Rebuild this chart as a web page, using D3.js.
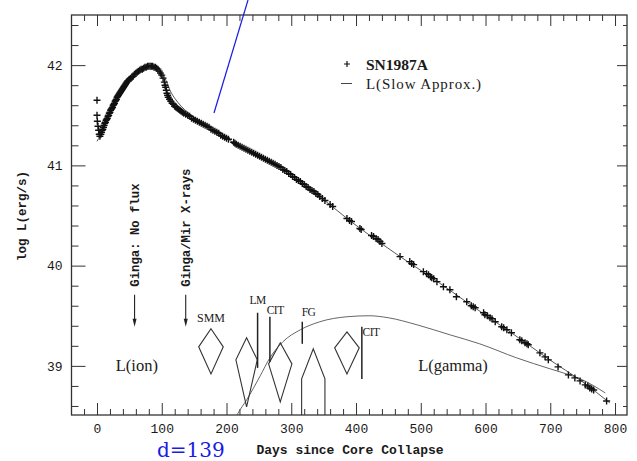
<!DOCTYPE html>
<html>
<head>
<meta charset="utf-8">
<script src="https://d3js.org/d3.v7.min.js"></script>
<style>
  body { margin: 0; background: #fff; }
  .tick text { font-family: "Liberation Mono", monospace; font-size: 13px; fill: #1a1a1a; }
  .tick line { stroke: #333; stroke-width: 1; }
  .mono { font-family: "Liberation Mono", monospace; fill: #1a1a1a; }
  .serif { font-family: "Liberation Serif", serif; fill: #1a1a1a; }
</style>
</head>
<body>
<script>
// SN1987A bolometric light curve vs. slow approximation and L(gamma)

var width = 637, height = 461;
var plot = { left: 71.5, right: 627, top: 15, bottom: 415 };

// axes
var dayDomain = [-39.4, 818.5];
var logLDomain = [38.51, 42.5];
var dayTicks = [0, 100, 200, 300, 400, 500, 600, 700, 800];
var logLTicks = [39, 40, 41, 42];

// observed points (day, log L)
var snDay = [0, 0, 0.5, 1.5, 2.5, 3.5, 4.5, 6, 7, 8, 9, 10, 11, 12, 13, 14, 15, 16, 17, 18, 19, 20,
  21, 22, 23, 24, 25, 26, 27, 28, 29, 30, 31, 32, 33, 34, 35, 36, 37, 38, 39, 40, 41, 42, 43, 44, 45,
  46, 47, 48, 49, 50, 52, 54, 56, 58, 60, 62, 64, 66, 68, 70, 72, 74, 76, 78, 80, 82, 84, 86, 88, 90,
  92, 94, 96, 98, 100, 102, 104, 105, 106, 107, 108, 109, 110, 112, 114, 116, 118, 120, 122, 124, 126,
  128, 130, 132, 134, 137, 140, 143, 146, 149, 152, 155, 158, 161, 164, 167, 170, 173, 176, 179, 182,
  185, 188, 191, 194, 197, 200, 203, 211, 213, 215, 218, 221, 224, 227, 230, 233, 236, 239, 242, 245, 248,
  251, 254, 257, 260, 263, 266, 269, 272, 275, 278, 281, 284, 287, 290, 293, 296, 299, 302, 305, 308,
  311, 314, 317, 320, 323, 326, 329, 332, 335, 338, 341, 344, 348, 352,
  360, 364, 386, 390, 393, 406, 408, 424, 427, 431, 434, 437, 440, 468, 483, 486, 489, 504, 509, 512,
  515, 517, 520, 525, 535, 545, 555, 571, 578, 581, 584, 597, 599, 603, 607, 610, 615, 625, 628, 633,
  640, 653, 656, 661, 664, 666, 684, 692, 697, 712, 728, 738, 746, 754, 758, 761, 764, 767, 787];
var snLogL = [41.65, 41.50, 41.44, 41.39, 41.35, 41.31, 41.29, 41.31, 41.33, 41.35, 41.36, 41.38,
  41.40, 41.42, 41.43, 41.45, 41.46, 41.47, 41.49, 41.50, 41.52, 41.53, 41.55, 41.56, 41.57, 41.58,
  41.60, 41.61, 41.62, 41.64, 41.65, 41.66, 41.68, 41.69, 41.70, 41.71, 41.72, 41.73, 41.74, 41.75,
  41.76, 41.77, 41.78, 41.79, 41.80, 41.81, 41.82, 41.83, 41.84, 41.84, 41.85, 41.86, 41.87, 41.88,
  41.89, 41.91, 41.92, 41.93, 41.94, 41.95, 41.96, 41.96, 41.97, 41.98, 41.98, 41.99, 41.99, 41.99,
  41.99, 41.99, 41.98, 41.98, 41.97, 41.96, 41.94, 41.92, 41.90, 41.87, 41.83, 41.80, 41.78, 41.75,
  41.72, 41.70, 41.68, 41.66, 41.64, 41.62, 41.61, 41.59, 41.58, 41.57, 41.56, 41.55, 41.54, 41.53,
  41.52, 41.51, 41.50, 41.49, 41.47, 41.46, 41.45, 41.44, 41.43, 41.42, 41.41, 41.40, 41.39, 41.38,
  41.36, 41.35, 41.34, 41.33, 41.32, 41.30, 41.29, 41.28, 41.27, 41.26, 41.23, 41.22, 41.21, 41.20, 41.19,
  41.18, 41.17, 41.16, 41.15, 41.14, 41.13, 41.12, 41.11, 41.10, 41.09, 41.08, 41.07, 41.06, 41.05,
  41.04, 41.03, 41.02, 41.01, 41.00, 40.99, 40.98, 40.96, 40.95, 40.94, 40.92, 40.91, 40.89, 40.88,
  40.86, 40.85, 40.84, 40.82, 40.81, 40.79, 40.78, 40.76, 40.75, 40.74, 40.72, 40.71, 40.69, 40.67,
  40.65,
  40.61, 40.59, 40.47, 40.45, 40.44, 40.37, 40.36, 40.30, 40.29, 40.27, 40.26, 40.24, 40.22, 40.09,
  40.04, 40.02, 40.01, 39.94, 39.92, 39.91, 39.89, 39.88, 39.87, 39.84, 39.79, 39.76, 39.69, 39.64,
  39.60, 39.59, 39.58, 39.53, 39.51, 39.50, 39.48, 39.47, 39.44, 39.39, 39.38, 39.36, 39.33, 39.26,
  39.25, 39.23, 39.22, 39.21, 39.13, 39.09, 39.06, 38.99, 38.91, 38.88, 38.85, 38.81, 38.80, 38.78,
  38.77, 38.76, 38.65];

// L(Slow Approx.)
var slowDay = [0, 5, 10, 20, 30, 40, 50, 60, 70, 80, 90, 100, 105, 110, 115, 120, 130, 140, 150, 175,
  200, 231, 283, 313, 344, 390, 437, 468, 517, 581, 640, 697, 750, 792];
var slowLogL = [41.24, 41.30, 41.37, 41.51, 41.65, 41.77, 41.86, 41.93, 41.97, 41.99, 41.98, 41.93,
  41.87, 41.79, 41.72, 41.67, 41.59, 41.53, 41.48, 41.37, 41.27, 41.15, 40.99, 40.84, 40.69, 40.45,
  40.23, 40.09, 39.88, 39.59, 39.33, 39.07, 38.84, 38.63];

// L(gamma)
var gammaDay = [214, 218, 231, 252, 267, 287, 314, 344, 386, 420, 450, 494, 545, 591, 648, 700, 720, 750, 785];
var gammaLogL = [38.48, 38.53, 38.66, 38.90, 39.08, 39.24, 39.36, 39.44, 39.49, 39.50, 39.48, 39.41,
  39.31, 39.22, 39.08, 38.97, 38.93, 38.86, 38.73];

// gamma-ray detections: diamonds (day, half-width in days, top / middle / bottom log L)
var diamondDay = [176, 231, 283, 334, 386];
var diamondHalfDays = [19, 16.5, 18, 18, 19];
var diamondTop = [39.37, 39.28, 39.23, 39.17, 39.34];
var diamondMid = [39.19, 39.06, 39.02, 38.87, 39.18];
var diamondBot = [38.92, 38.59, 38.64, null, 38.92];   // null: open towards the axis
var diamondLabel = ["SMM", "", "", "", ""];
var diamondLabelLogL = [39.44, 0, 0, 0, 0];

// line detections (bars)
var barName = ["LM", "CIT", "FG", "CIT"];
var barDay = [248, 267, 317, 409];
var barTop = [39.53, 39.49, 39.44, 39.39];
var barBot = [38.98, 39.04, 39.22, 38.87];
var barLabelDay = [248, 262, 316, 410];
var barLabelLogL = [39.615, 39.52, 39.50, 39.30];
var barAnchor = ["middle", "start", "start", "start"];

// X-ray upper limits (arrows)
var arrowText = ["Ginga: No flux", "Ginga/Mir X-rays"];
var arrowDay = [58, 137];
var arrowTop = [39.71, 39.71];
var arrowTip = [39.39, 39.39];
var arrowLabelLogL = [39.79, 39.79];

var x = d3.scaleLinear().domain(dayDomain).range([plot.left, plot.right]);
var y = d3.scaleLinear().domain(logLDomain).range([plot.bottom, plot.top]);

var svg = d3.select("body").append("svg")
  .attr("width", width)
  .attr("height", height);

svg.append("clipPath").attr("id", "clip")
  .append("rect")
  .attr("x", plot.left).attr("y", plot.top)
  .attr("width", plot.right - plot.left).attr("height", plot.bottom - plot.top);

// ticks, all pointing inwards
var dayMinor = d3.range(-20, 820, 20).filter(function(d) { return d % 100 !== 0; });
var logLMinor = d3.range(38.6, 42.45, 0.2).filter(function(d) { return Math.abs(d - Math.round(d)) > 0.01; });

function axisGroup(axis, tx, ty) {
  var g = svg.append("g")
    .attr("transform", "translate(" + [tx, ty] + ")")
    .call(axis);
  g.select(".domain").remove();
  return g;
}
axisGroup(d3.axisBottom(x).tickValues(dayTicks).tickSize(-12).tickPadding(9).tickFormat(d3.format("d")), 0, plot.bottom);
axisGroup(d3.axisBottom(x).tickValues(dayMinor).tickSize(-6).tickFormat(""), 0, plot.bottom);
axisGroup(d3.axisTop(x).tickValues(dayTicks).tickSize(-11).tickFormat(""), 0, plot.top);
axisGroup(d3.axisTop(x).tickValues(dayMinor).tickSize(-6).tickFormat(""), 0, plot.top);
axisGroup(d3.axisLeft(y).tickValues(logLTicks).tickSize(-14).tickPadding(9).tickFormat(d3.format("d")), plot.left, 0);
axisGroup(d3.axisLeft(y).tickValues(logLMinor).tickSize(-7).tickFormat(""), plot.left, 0);
axisGroup(d3.axisRight(y).tickValues(logLTicks).tickSize(-10).tickFormat(""), plot.right, 0);
axisGroup(d3.axisRight(y).tickValues(logLMinor).tickSize(-4).tickFormat(""), plot.right, 0);

// frame
svg.append("rect")
  .attr("x", plot.left).attr("y", plot.top)
  .attr("width", plot.right - plot.left).attr("height", plot.bottom - plot.top)
  .attr("fill", "none")
  .attr("stroke", "#333")
  .attr("stroke-width", 1.3);

// axis titles
svg.append("text")
  .attr("class", "mono")
  .attr("x", 350).attr("y", 454)
  .attr("text-anchor", "middle")
  .attr("font-size", "13px")
  .attr("font-weight", "bold")
  .text("Days since Core Collapse");
svg.append("text")
  .attr("class", "mono")
  .attr("transform", "translate(" + [26, 216] + ") rotate(-90)")
  .attr("text-anchor", "middle")
  .attr("font-size", "12.5px")
  .attr("font-weight", "bold")
  .text("log L(erg/s)");

var marks = svg.append("g").attr("clip-path", "url(#clip)");

// curves
var line = d3.line()
  .x(function(d) { return x(d[0]); })
  .y(function(d) { return y(d[1]); })
  .curve(d3.curveMonotoneX);

marks.append("path")
  .datum(d3.zip(slowDay, slowLogL))
  .attr("d", line)
  .attr("fill", "none")
  .attr("stroke", "#444")
  .attr("stroke-width", 0.9);

marks.append("path")
  .datum(d3.zip(gammaDay, gammaLogL))
  .attr("d", line)
  .attr("fill", "none")
  .attr("stroke", "#555")
  .attr("stroke-width", 0.9);

// SN1987A crosses
marks.selectAll(".sn")
  .data(d3.zip(snDay, snLogL))
  .enter()
  .append("path")
  .attr("class", "sn")
  .attr("transform", function(d) { return "translate(" + [x(d[0]), y(d[1])] + ")"; })
  .attr("d", "M-3.5,0H3.5M0,-3.5V3.5")
  .attr("stroke", "#111")
  .attr("stroke-width", 1.4);

// diamonds
var diamonds = diamondDay.map(function(d, i) {
  return { day: d, half: diamondHalfDays[i], top: diamondTop[i], mid: diamondMid[i],
           bot: diamondBot[i], label: diamondLabel[i], labelL: diamondLabelLogL[i] };
});
marks.selectAll(".diamond")
  .data(diamonds)
  .enter()
  .append("path")
  .attr("class", "diamond")
  .attr("d", function(d) {
    var l = x(d.day - d.half), c = x(d.day), r = x(d.day + d.half);
    if (d.bot === null) {
      var b = y(logLDomain[0]) + 2;
      return "M" + [l, b] + "L" + [l, y(d.mid)] + "L" + [c, y(d.top)] + "L" + [r, y(d.mid)] + "L" + [r, b];
    }
    return "M" + [c, y(d.top)] + "L" + [r, y(d.mid)] + "L" + [c, y(d.bot)] + "L" + [l, y(d.mid)] + "Z";
  })
  .attr("fill", "none")
  .attr("stroke", "#333")
  .attr("stroke-width", 1.1);

svg.selectAll(".dlabel")
  .data(diamonds.filter(function(d) { return d.label; }))
  .enter()
  .append("text")
  .attr("class", "serif")
  .attr("x", function(d) { return x(d.day); })
  .attr("y", function(d) { return y(d.labelL); })
  .attr("text-anchor", "middle")
  .attr("font-size", "12px")
  .text(function(d) { return d.label; });

// bars
var bars = barDay.map(function(d, i) {
  return { name: barName[i], day: d, top: barTop[i], bot: barBot[i],
           lday: barLabelDay[i], lL: barLabelLogL[i], anchor: barAnchor[i] };
});
svg.selectAll(".bar")
  .data(bars)
  .enter()
  .append("line")
  .attr("x1", function(d) { return x(d.day); })
  .attr("x2", function(d) { return x(d.day); })
  .attr("y1", function(d) { return y(d.top); })
  .attr("y2", function(d) { return y(d.bot); })
  .attr("stroke", "#222")
  .attr("stroke-width", 1.5);
svg.selectAll(".blabel")
  .data(bars)
  .enter()
  .append("text")
  .attr("class", "serif")
  .attr("x", function(d) { return x(d.lday); })
  .attr("y", function(d) { return y(d.lL); })
  .attr("text-anchor", function(d) { return d.anchor; })
  .attr("font-size", "11.5px")
  .attr("letter-spacing", "-0.5px")
  .text(function(d) { return d.name; });

// arrows
var arrows = arrowDay.map(function(d, i) {
  return { text: arrowText[i], day: d, top: arrowTop[i], tip: arrowTip[i], lL: arrowLabelLogL[i] };
});
svg.selectAll(".ashaft")
  .data(arrows)
  .enter()
  .append("line")
  .attr("x1", function(d) { return x(d.day); })
  .attr("x2", function(d) { return x(d.day); })
  .attr("y1", function(d) { return y(d.top); })
  .attr("y2", function(d) { return y(d.tip) - 4; })
  .attr("stroke", "#222")
  .attr("stroke-width", 1.1);
svg.selectAll(".ahead")
  .data(arrows)
  .enter()
  .append("path")
  .attr("d", function(d) {
    var cx = x(d.day), ty = y(d.tip);
    return "M" + [cx - 2, ty - 8] + "L" + [cx + 2, ty - 8] + "L" + [cx, ty] + "Z";
  })
  .attr("fill", "#222");
svg.selectAll(".alabel")
  .data(arrows)
  .enter()
  .append("text")
  .attr("class", "mono")
  .attr("transform", function(d) { return "translate(" + [x(d.day) + 4.5, y(d.lL)] + ") rotate(-90)"; })
  .attr("font-size", "12.3px")
  .attr("font-weight", "bold")
  .text(function(d) { return d.text; });

// curve names
svg.append("text")
  .attr("class", "serif")
  .attr("x", x(29)).attr("y", y(38.95))
  .attr("font-size", "16.5px")
  .text("L(ion)");
svg.append("text")
  .attr("class", "serif")
  .attr("x", x(496)).attr("y", y(38.95))
  .attr("font-size", "16.5px")
  .text("L(gamma)");

// legend
svg.append("path")
  .attr("d", "M344,64H350M347,61V67")
  .attr("stroke", "#111")
  .attr("stroke-width", 1.2);
svg.append("text")
  .attr("class", "serif")
  .attr("x", 366).attr("y", 69.5)
  .attr("font-size", "15.5px")
  .attr("font-weight", "bold")
  .text("SN1987A");
svg.append("line")
  .attr("x1", 341).attr("x2", 352)
  .attr("y1", 83.5).attr("y2", 83.5)
  .attr("stroke", "#444")
  .attr("stroke-width", 1);
svg.append("text")
  .attr("class", "serif")
  .attr("x", 366).attr("y", 88.5)
  .attr("font-size", "15px")
  .attr("letter-spacing", "0.9px")
  .text("L(Slow Approx.)");

// blue annotation
svg.append("line")
  .attr("x1", 248).attr("y1", 0)
  .attr("x2", 214).attr("y2", 113)
  .attr("stroke", "#1a1ae6")
  .attr("stroke-width", 1.2);
svg.append("text")
  .attr("x", 157).attr("y", 457)
  .attr("font-family", "DejaVu Serif, serif")
  .attr("font-size", "20px")
  .attr("fill", "#1a1ae6")
  .text("d=139");
</script>
</body>
</html>
